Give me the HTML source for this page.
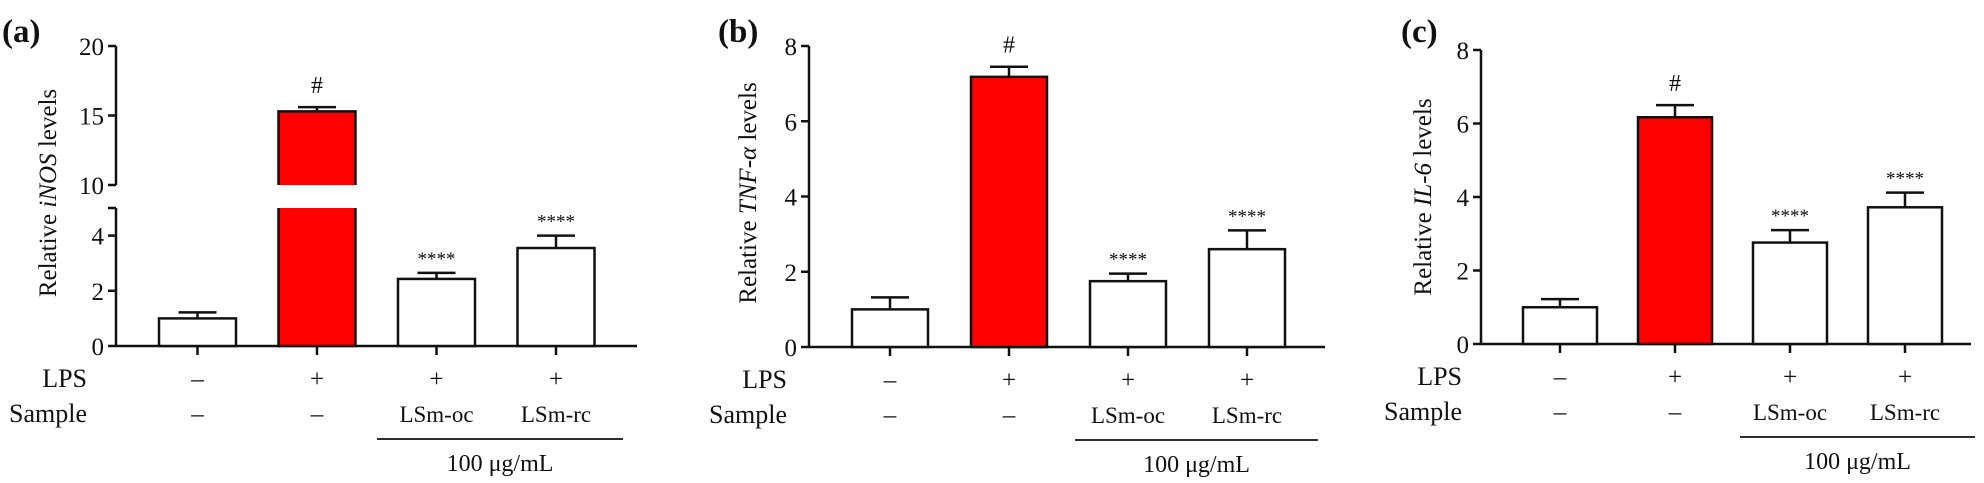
<!DOCTYPE html>
<html><head><meta charset="utf-8"><style>
html,body{margin:0;padding:0;background:#fff;}
svg{display:block;}
text{font-family:"Liberation Serif",serif;fill:#111;}
</style></head><body>
<svg id="fig" width="1984" height="483" viewBox="0 0 1984 483"></svg>
<script>
const categories = ["Control","LPS","LSm-oc","LSm-rc"];
const lpsRow = ["–","+","+","+"];
const sampleRow = ["–","–","LSm-oc","LSm-rc"];
const inosValues = [1.0, 15.3, 2.43, 3.55];
const inosErrors = [0.22, 0.3, 0.22, 0.45];
const tnfValues = [1.0, 7.18, 1.75, 2.6];
const tnfErrors = [0.32, 0.27, 0.2, 0.5];
const il6Values = [1.0, 6.17, 2.76, 3.72];
const il6Errors = [0.22, 0.33, 0.34, 0.4];
const marks = ["", "#", "****", "****"];
const inosTicks = [0, 2, 4, 10, 15, 20];
const linTicks = [0, 2, 4, 6, 8];

const NS = "http://www.w3.org/2000/svg";
const svg = document.getElementById("fig");
function el(tag, attrs, parent, txt){
  const e = document.createElementNS(NS, tag);
  for (const k in attrs) e.setAttribute(k, attrs[k]);
  if (txt !== undefined) e.textContent = txt;
  (parent || svg).appendChild(e);
  return e;
}
const panels = [
  {id:"a", label:"(a)", labelX:2, ax:116, axEnd:637, base:346, gene:"iNOS", titleX:47, titleY:193,
   values:inosValues, errors:inosErrors, ticks:inosTicks, broken:true, bx0:159, step:119.5, bw:77,
   rowX:87, lineX1:377, lineX2:623},
  {id:"b", label:"(b)", labelX:718, ax:809, axEnd:1325, base:347, top:46, max:8, gene:"TNF-α", titleX:747, titleY:193,
   values:tnfValues, errors:tnfErrors, ticks:linTicks, broken:false, bx0:852, step:119, bw:76,
   rowX:787, lineX1:1075, lineX2:1318},
  {id:"c", label:"(c)", labelX:1401, ax:1481, axEnd:1971, base:344, top:50, max:8, gene:"IL-6", titleX:1422, titleY:197,
   values:il6Values, errors:il6Errors, ticks:linTicks, broken:false, bx0:1523, step:115, bw:74,
   rowX:1462, lineX1:1740, lineX2:1975}
];

panels.forEach(p => {
  const g = el("g", {});
  
  
  let y;
  if (p.broken) {
    y = v => v <= 5 ? p.base - v * 27.6 : 185 - (v - 10) * 13.9;
  } else {
    y = v => p.base - v * (p.base - p.top) / p.max;
  }
  const lab = el("text", {x:p.labelX, y:42, "font-size":33, "font-weight":"bold"}, g, p.label);
  
  
  const axg = el("g", {stroke:"#111", "stroke-width":2.5, fill:"none"}, g);
  
  
  if (p.broken) {
    el("line", {x1:p.ax, y1:y(0), x2:p.ax, y2:y(5)}, axg);
    el("line", {x1:p.ax-8, y1:y(5), x2:p.ax, y2:y(5)}, axg);
    el("line", {x1:p.ax, y1:y(10), x2:p.ax, y2:y(20)}, axg);
  } else {
    el("line", {x1:p.ax, y1:y(0), x2:p.ax, y2:y(p.max)}, axg);
  }
  p.ticks.forEach(t => {
    el("line", {x1:p.ax-8, y1:y(t), x2:p.ax, y2:y(t)}, axg);
    const tl = el("text", {x:p.ax-12, y:y(t)+9, "font-size":25, "text-anchor":"end"}, g, String(t));
    
    
  });
  const xa = el("line", {x1:p.ax, y1:p.base, x2:p.axEnd, y2:p.base, stroke:"#111", "stroke-width":2.5}, g);
  
  
  const tt = el("text", {x:0, y:0, "font-size":25, "text-anchor":"middle",
     transform:`translate(${p.titleX + 9},${p.titleY}) rotate(-90)`}, g);
  
  
  el("tspan", {}, tt, "Relative ");
  el("tspan", {"font-style":"italic"}, tt, p.gene);
  el("tspan", {}, tt, " levels");
  p.values.forEach((v, i) => {
    const x = p.bx0 + i * p.step;
    const cx = x + p.bw / 2;
    const fill = i === 1 ? "#ff0000" : "#fff";
    const bg = el("g", {}, g);
    
    
    if (p.broken && v > 5) {
      // lower segment (open top), upper segment (open bottom)
      el("rect", {x:x, y:y(5), width:p.bw, height:y(0)-y(5), fill:fill}, bg);
      el("rect", {x:x, y:y(v), width:p.bw, height:y(10)-y(v), fill:fill}, bg);
      el("path", {d:`M${x},${y(5)} V${y(0)} H${x+p.bw} V${y(5)}`, fill:"none", stroke:"#111", "stroke-width":2.5}, bg);
      el("path", {d:`M${x},${y(10)} V${y(v)} H${x+p.bw} V${y(10)}`, fill:"none", stroke:"#111", "stroke-width":2.5}, bg);
    } else {
      el("rect", {x:x, y:y(v), width:p.bw, height:y(0)-y(v), fill:fill, stroke:"#111", "stroke-width":2.5}, bg);
    }
    const et = y(v + p.errors[i]);
    const eg = el("g", {stroke:"#111", "stroke-width":2.5}, g);
    
    
    el("line", {x1:cx, y1:y(v), x2:cx, y2:et}, eg);
    el("line", {x1:cx-19, y1:et, x2:cx+19, y2:et}, eg);
    el("line", {x1:cx, y1:p.base, x2:cx, y2:p.base+9}, eg);
    if (marks[i]) {
      const isHash = marks[i] === "#";
      const m = el("text", {x:cx, y:et - (isHash ? 14 : 8), "font-size":isHash ? 24 : 19,
        "text-anchor":"middle", fill:isHash ? "#111" : "#666"}, g, marks[i]);
      
      
    }
    const l1 = el("text", {x:cx, y:p.base+41, "font-size":25, "text-anchor":"middle"}, g, lpsRow[i]);
    
    
    const l2 = el("text", {x:cx, y:p.base+76, "font-size":sampleRow[i].length > 1 ? 23 : 25, "text-anchor":"middle"}, g, sampleRow[i]);
    
    
  });
  const r1 = el("text", {x:p.rowX, y:p.base+41, "font-size":26, "text-anchor":"end"}, g, "LPS");
  
  
  const r2 = el("text", {x:p.rowX, y:p.base+76, "font-size":26, "text-anchor":"end"}, g, "Sample");
  
  
  const ul = el("line", {x1:p.lineX1, y1:p.base+93, x2:p.lineX2, y2:p.base+93, stroke:"#111", "stroke-width":1.8}, g);
  
  
  const ct = el("text", {x:(p.lineX1+p.lineX2)/2, y:p.base+125, "font-size":24, "text-anchor":"middle"}, g, "100 μg/mL");
  
  
});
</script>
</body></html>
